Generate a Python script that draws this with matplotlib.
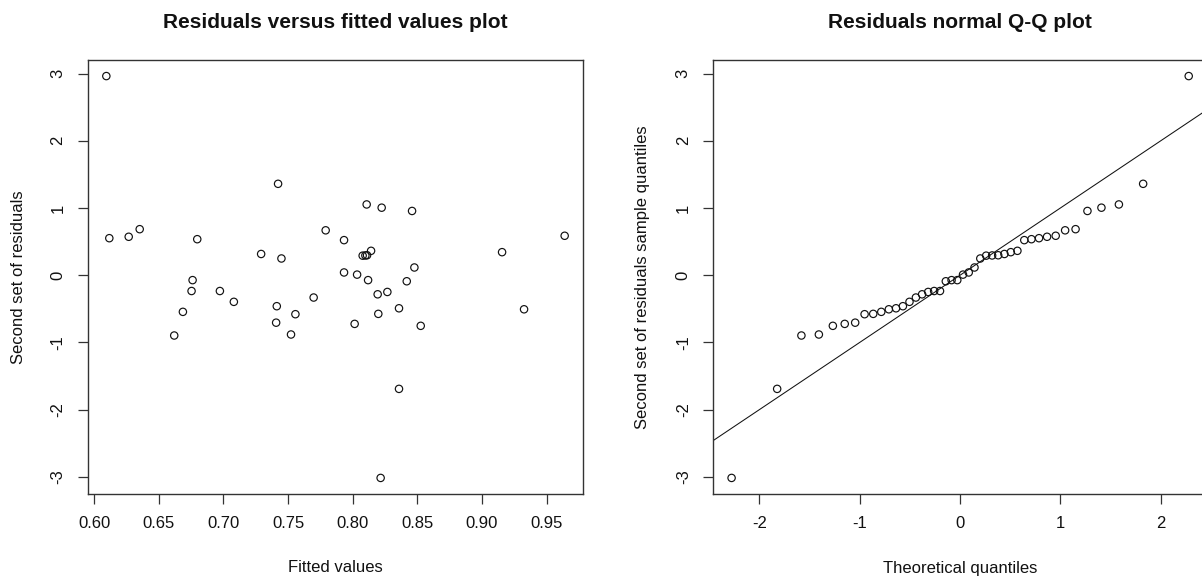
import numpy as np
import matplotlib
matplotlib.use("Agg")
import matplotlib.pyplot as plt
from statistics import NormalDist

# ---- data ----
fitted_values = [
    0.8216, 0.8358, 0.6620, 0.7523, 0.8526, 0.8015, 0.7408, 0.8198, 0.7557, 0.6687,
    0.9325, 0.8358, 0.7413, 0.7081, 0.7698, 0.8193, 0.8268, 0.6754, 0.6973, 0.8418,
    0.6762, 0.8119, 0.8034, 0.7933, 0.8477, 0.7449, 0.8077, 0.8098, 0.8111, 0.7292,
    0.9155, 0.8142, 0.7933, 0.6798, 0.6118, 0.6268, 0.9639, 0.7791, 0.6353, 0.8459,
    0.8224, 0.8108, 0.7423, 0.6095,
]
residuals = [
    -3.017, -1.692, -0.898, -0.883, -0.754, -0.725, -0.707, -0.576, -0.581, -0.546,
    -0.508, -0.493, -0.462, -0.397, -0.333, -0.285, -0.250, -0.236, -0.236, -0.091,
    -0.074, -0.074, 0.008, 0.040, 0.114, 0.248, 0.290, 0.293, 0.296, 0.315,
    0.342, 0.362, 0.521, 0.535, 0.550, 0.571, 0.586, 0.667, 0.684, 0.955,
    1.004, 1.052, 1.359, 2.962,
]
x_ticks_left = [0.60, 0.65, 0.70, 0.75, 0.80, 0.85, 0.90, 0.95]
x_tick_labels_left = ["0.60", "0.65", "0.70", "0.75", "0.80", "0.85", "0.90", "0.95"]
y_ticks = [-3, -2, -1, 0, 1, 2, 3]
x_ticks_right = [-2, -1, 0, 1, 2]
qq_line_intercept = 0.0
qq_line_slope = 1.0

titles = ["Residuals versus fitted values plot", "Residuals normal Q-Q plot"]
xlabels = ["Fitted values", "Theoretical quantiles"]
ylabels = ["Second set of residuals", "Second set of residuals sample quantiles"]

# ---- QQ computation (R ppoints, a = 0.5 for n > 10) ----
sample_q = np.sort(np.array(residuals))
n = len(sample_q)
probs = (np.arange(1, n + 1) - 0.5) / n
theo_q = np.array([NormalDist().inv_cdf(p) for p in probs])

plt.rcParams["font.family"] = ["Liberation Sans", "DejaVu Sans"]

W, H = 1202, 580
fig = plt.figure(figsize=(W / 100, H / 100), dpi=100)
ax1 = fig.add_axes([88 / W, 86 / H, 495 / W, 434 / H])
ax2 = fig.add_axes([713.3 / W, 86 / H, 493.7 / W, 434 / H])

frame_col = "#333333"
marker_kw = dict(marker="o", s=28, facecolors="none", edgecolors="#111111", linewidths=0.85)

ax1.scatter(fitted_values, residuals, **marker_kw)
ax2.scatter(theo_q, sample_q, **marker_kw)
ax2.axline((0, qq_line_intercept), slope=qq_line_slope, color="#111111", lw=0.75)

def lims(v):
    lo, hi = min(v), max(v)
    pad = 0.04 * (hi - lo)
    return lo - pad, hi + pad

ax1.set_xlim(lims(fitted_values))
ax1.set_ylim(lims(residuals))
ax2.set_xlim(lims(theo_q))
ax2.set_ylim(lims(sample_q))

ax1.set_xticks(x_ticks_left)
ax1.set_xticklabels(x_tick_labels_left)
ax2.set_xticks(x_ticks_right)
ax2.set_xticklabels([str(t) for t in x_ticks_right])

for i, ax in enumerate([ax1, ax2]):
    ax.set_yticks(y_ticks)
    ax.set_yticklabels([str(t) for t in y_ticks])
    for sp in ax.spines.values():
        sp.set_color(frame_col)
        sp.set_linewidth(1.0)
    ax.tick_params(axis="both", direction="out", length=7.2, width=0.9,
                   color=frame_col, labelsize=12, labelcolor="#111111", pad=9)
    for lbl in ax.get_yticklabels():
        lbl.set_rotation(90)
        lbl.set_va("center")
    ax.set_title(titles[i], fontsize=15, fontweight="bold", color="#111111", pad=23)
    ax.set_xlabel(xlabels[i], fontsize=12, color="#111111")
    ax.set_ylabel(ylabels[i], fontsize=12, color="#111111")
    ax.xaxis.set_label_coords(0.5, -(86 - 12) / 434)
    ax.xaxis.label.set_va("center")

ax1.yaxis.set_label_coords((19 - 88) / 495, 0.5)
ax2.yaxis.set_label_coords((642 - 713.3) / 493.7, 0.5)
ax1.yaxis.label.set_va("center")
ax2.yaxis.label.set_va("center")

fig.savefig("out.png", dpi=100, facecolor="white")
